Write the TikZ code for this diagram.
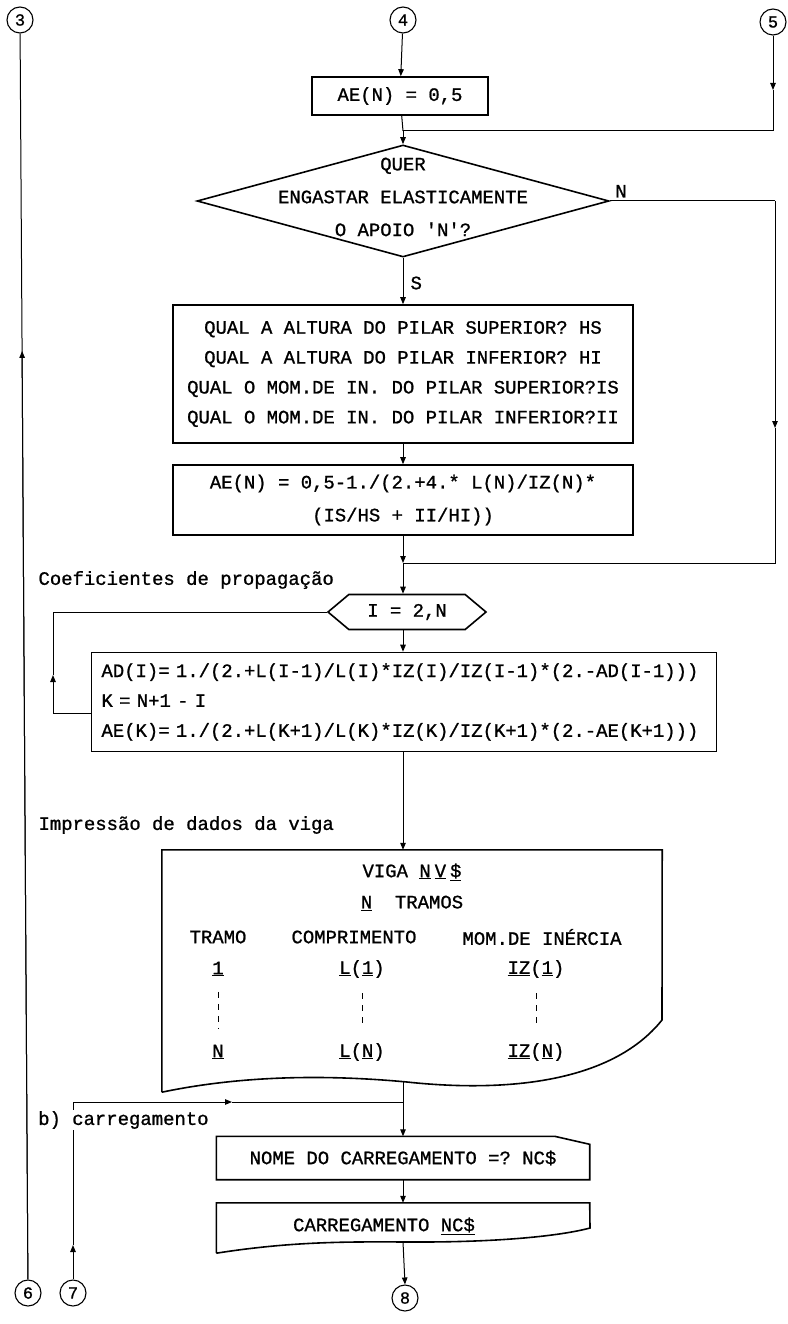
\documentclass[tikz,border=0pt]{standalone}
\usepackage{fontspec}
\setmonofont[FakeBold=1]{Liberation Mono}
\usetikzlibrary{arrows.meta, positioning, calc, shapes.geometric, shapes.symbols}

\begin{document}
\begin{tikzpicture}[
  x=1bp, y=-1bp,
  every node/.style={font=\ttfamily\fontsize{19}{30}\selectfont},
  box/.style={draw, line width=1.6bp, inner sep=0pt, align=center},
  decision/.style={draw, diamond, line width=1.6bp, minimum width=412bp, minimum height=112bp, inner sep=0pt},
  loopbox/.style={draw, signal, signal to=west and east, signal pointer angle=80, line width=1.6bp, minimum width=158bp, minimum height=35bp, inner sep=2bp},
  conn/.style={draw, circle, line width=1.1bp, minimum size=26bp, inner sep=0pt, font=\ttfamily\fontsize{17}{17}\selectfont},
  flow/.style={line width=1bp, -{Triangle[length=7bp,width=5.5bp]}},
  line/.style={line width=1bp},
  outline/.style={line width=1.6bp},
  dots/.style={line width=1bp, dash pattern=on 6bp off 6bp, shorten <=12bp, shorten >=12bp},
]
\useasboundingbox (0,0) rectangle (787,1324);

% off-page connectors
\node[conn] (c3) at (20,20) {3};
\node[conn] (c4) at (403,20) {4};
\node[conn] (c5) at (773,22) {5};
\node[conn] (c6) at (28,1293) {6};
\node[conn] (c7) at (73,1293) {7};
\node[conn] (c8) at (405,1298) {8};

% elastic support of node N
\node[box, minimum width=176bp, minimum height=38bp] (b1) at (400,96) {AE(N) = 0,5};
\coordinate (j1) at (403,131);
\node[decision] (q) at (403,201) {};
\node[align=center] (qt) at (403,197) {QUER\\[3bp]ENGASTAR ELASTICAMENTE\\[3bp]O APOIO 'N'?};
\node[above right=0bp and 2bp of q.east] (nN) {N};
\node[anchor=west] (nS) at (407,283) {S};
\node[box, minimum width=460bp, minimum height=138bp] (b3) at (403,374)
  {QUAL A ALTURA DO PILAR SUPERIOR? HS\\QUAL A ALTURA DO PILAR INFERIOR? HI\\QUAL O MOM.DE IN. DO PILAR SUPERIOR?IS\\QUAL O MOM.DE IN. DO PILAR INFERIOR?II};
\node[box, minimum width=460bp, minimum height=70bp] (b4) at (403,500)
  {AE(N) = 0,5-1./(2.+4.* L(N)/IZ(N)*\\[3bp](IS/HS + II/HI))};
\coordinate (j2) at (403,563);

% propagation coefficients
\node[anchor=west] (coef) at (35,580) {Coeficientes de propagação};
\node[loopbox] (lp) at (407,612) {I = 2,N};
\node[box, align=left, text width=605bp, minimum width=625bp, minimum height=99bp, inner xsep=10bp] (b5) at (404,702)
  {AD(I)= 1./(2.+L(I-1)/L(I)*IZ(I)/IZ(I-1)*(2.-AD(I-1)))\\K = N+1 - I\\AE(K)= 1./(2.+L(K+1)/L(K)*IZ(K)/IZ(K+1)*(2.-AE(K+1)))};

% beam data printout
\node[anchor=west] (imp) at (35,825) {Impressão de dados da viga};
\node[minimum width=500bp, minimum height=242bp, inner sep=0pt] (doc) at (412,971) {};
\draw[outline] (doc.south west) -- (doc.north west) -- (doc.north east) -- (662,1020)
  .. controls (610,1085) and (500,1092) .. (407,1082)
  .. controls (300,1072) and (220,1080) .. (doc.south west);
\node (vg) at (412,872) {VIGA \underline{N}\hspace{4bp}\underline{V}\hspace{4bp}\underline{\$}};
\node (nt) at (412,903) {\underline{N}\ \ TRAMOS};
\node (h1) at (218,937) {TRAMO};
\node (h2) at (354,937) {COMPRIMENTO};
\node (h3) at (542,937) {MOM.DE INÉRCIA};
\node (r1a) at (218,969) {\underline{1}};
\node (r1b) at (362,969) {\underline{L}(\underline{1})};
\node (r1c) at (536,969) {\underline{IZ}(\underline{1})};
\node (rna) at (218,1052) {\underline{N}};
\node (rnb) at (362,1052) {\underline{L}(\underline{N})};
\node (rnc) at (536,1052) {\underline{IZ}(\underline{N})};
\draw[dots] (r1a) -- (rna);
\draw[dots] (r1b) -- (rnb);
\draw[dots] (r1c) -- (rnc);
\coordinate (dbot) at (403,1081);

% b) loading
\node[minimum width=373bp, minimum height=43bp] (nm) at (403,1158) {NOME DO CARREGAMENTO =? NC\$};
\draw[outline] (nm.north west) -- ($(nm.north east)+(-35,0)$) -- ($(nm.north east)+(0,8)$)
  -- (nm.south east) -- (nm.south west) -- cycle;
\node[minimum width=373bp, minimum height=50bp, inner sep=0pt] (cg) at (403,1228) {};
\draw[outline] (cg.south west) -- (cg.north west) -- (cg.north east) -- (590,1228)
  .. controls (560,1236) and (500,1242) .. (420,1242)
  .. controls (360,1242) and (300,1240) .. (cg.south west);
\node (cgt) at (384,1226) {CARREGAMENTO \underline{NC\$}};
\coordinate (cgb) at (403,1242);

% connectors
\draw[flow] (c6) -- ($(c3)!0.26!(c6)$);
\draw[line] (c3) -- (c6);
\draw[flow] (c4) -- (b1);
\coordinate (c5a) at (773,90);
\coordinate (c5b) at (773,131);
\draw[flow] (c5) -- (c5a);
\draw[line] (c5a) -- (c5b) -- (j1);
\draw[line] (b1) -- (j1);
\draw[flow] (j1) -- (q.north);
\draw[flow] (q.south) -- (b3.north);
\draw[flow] (b3) -- (b4);
\coordinate (rn1) at (775,201);
\coordinate (rn2) at (775,428);
\coordinate (rn3) at (775,563);
\draw[line] (q.east) -- (rn1);
\draw[flow] (rn1) -- (rn2);
\draw[line] (rn2) -- (rn3) -- (j2);
\draw[flow] (b4) -- (j2);
\draw[flow] (j2) -- (j2 |- lp.north);
\draw[flow] (j2 |- lp.south) -- (j2 |- b5.north);
\coordinate (lpa) at (53,713);
\coordinate (lpb) at (53,675);
\coordinate (lpc) at (53,612);
\draw[flow] (b5.west |- lpa) -- (lpa) -- (lpb);
\draw[line] (lpb) -- (lpc) -- (lp.west);
\draw[flow] (j2 |- b5.south) -- (j2 |- doc.north);
\draw[flow] (dbot) -- (nm.north);
\draw[flow] (nm.south) -- (cg.north);
\draw[flow] (cgb) -- (c8.north);
\coordinate (j3) at (73,1102);
\coordinate (j3a) at (232,1102);
\coordinate (j3b) at (403,1102);
\coordinate (c7a) at (73,1245);
\draw[flow] (c7) -- (c7a);
\draw[line] (c7a) -- (j3);
\draw[flow] (j3) -- (j3a);
\draw[line] (j3a) -- (j3b);
\node[anchor=west, fill=white, inner sep=1bp] (bc) at (37,1120) {b) carregamento};

\end{tikzpicture}
\end{document}
